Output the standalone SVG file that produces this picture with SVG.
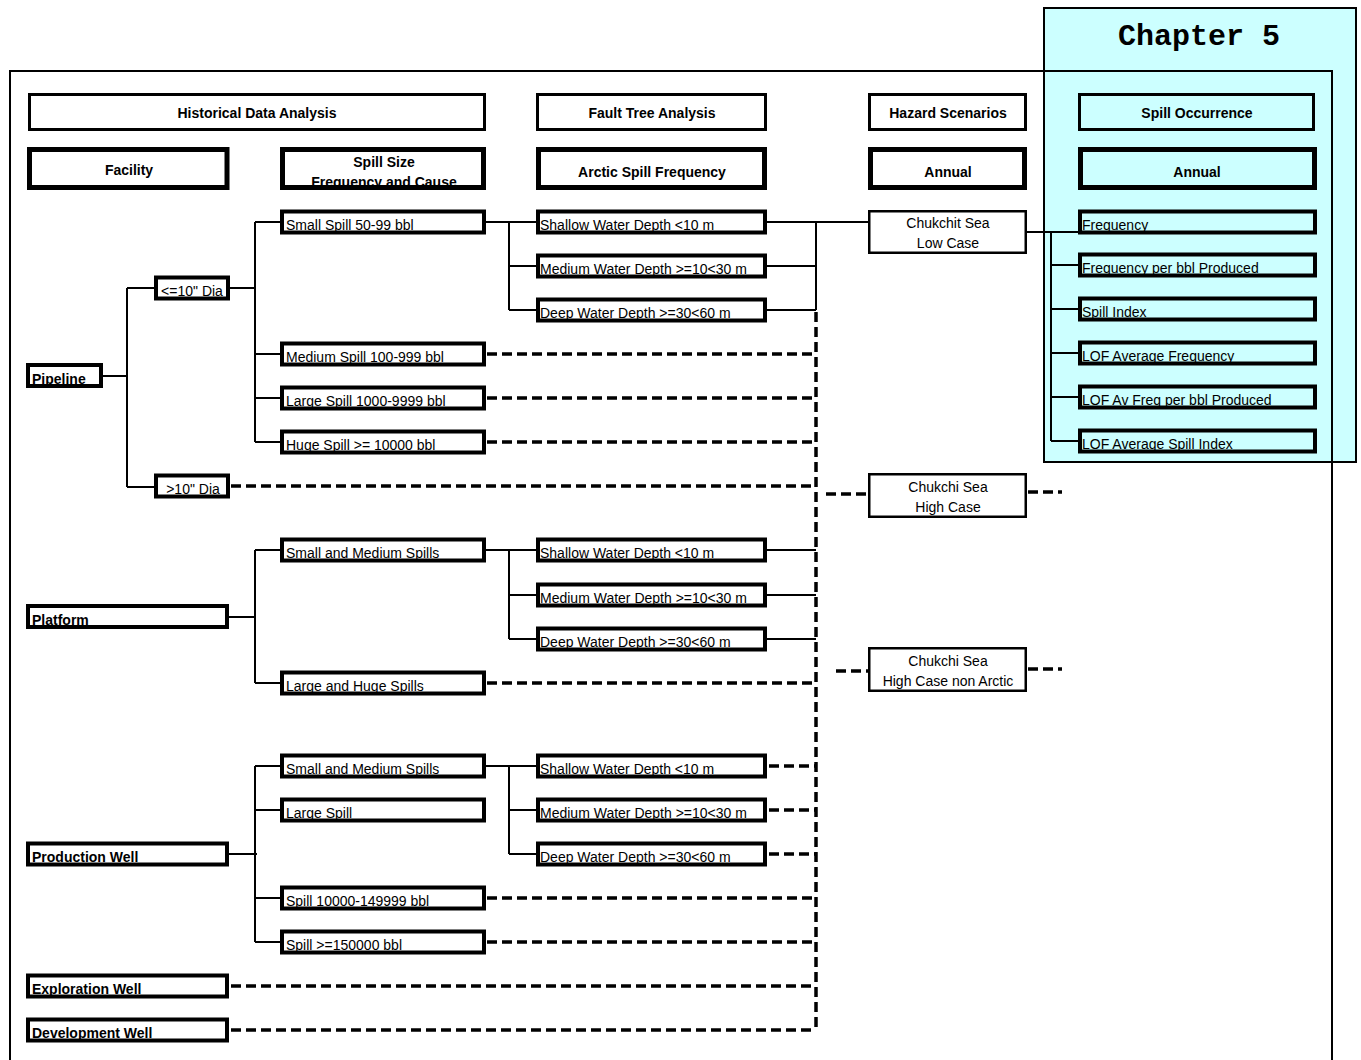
<svg xmlns="http://www.w3.org/2000/svg" width="1361" height="1060" viewBox="0 0 1361 1060">
  <style>
    text { font-family: "Liberation Sans", Arial, sans-serif; font-size: 14px; fill: #000; }
    .b { font-weight: bold; }
    .c { text-anchor: middle; }
    .hdr { fill: none; stroke: #000; stroke-width: 3; }
    .cat { fill: none; stroke: #000; stroke-width: 5; }
    .box { fill: none; stroke: #000; stroke-width: 4; }
    .hz { fill: none; stroke: #000; stroke-width: 2.5; }
    .ln { fill: none; stroke: #000; stroke-width: 2; }
    .dash { fill: none; stroke: #000; stroke-width: 3.5; stroke-dasharray: 10 5; }
    .chap { font-family: "Liberation Mono", "Courier New", monospace; font-size: 30px; font-weight: bold; }
  </style>

  <rect width="1361" height="1060" fill="#fff"/>

  <!-- Chapter 5 panel -->
  <g id="chapter5">
    <rect x="1044" y="8" width="312" height="454" fill="#CCFFFF" stroke="#000" stroke-width="2"/>
    <text class="chap c" x="1199" y="45">Chapter 5</text>
  </g>

  <!-- outer frame -->
  <rect id="frame" x="10" y="71" width="1322" height="1010" fill="none" stroke="#000" stroke-width="2"/>

  <!-- connectors -->
  <g id="connectors">
    <path class="ln" d="M103 376H128 M127 288V487 M127 288H155 M127 487H155"/>
    <path class="ln" d="M229 288H256 M255 222V442 M255 222H281 M255 354H281 M255 398H281 M255 442H281"/>
    <path class="ln" d="M485 222H537 M509 222V310 M509 266H537 M509 310H537"/>
    <path class="ln" d="M767 222H869 M767 266H816 M767 310H816 M816 222V310"/>
    <path class="ln" d="M1027 232H1078 M1051 232V441 M1051 265H1078 M1051 309H1078 M1051 353H1078 M1051 397H1078 M1051 441H1078"/>
    <path class="ln" d="M229 617H256 M255 550V683 M255 550H281 M255 683H281"/>
    <path class="ln" d="M485 550H537 M509 550V639 M509 595H537 M509 639H537"/>
    <path class="ln" d="M767 550H816 M767 595H816 M767 639H816"/>
    <path class="ln" d="M229 854H257 M255 766V942 M255 766H281 M255 810H281 M255 898H281 M255 942H281"/>
    <path class="ln" d="M485 766H537 M509 766V854 M509 810H537 M509 854H537"/>

    <path class="dash" d="M487 354H816 M487 398H816 M487 442H816 M231 486H816 M487 683H816"/>
    <path class="dash" d="M769 766H816 M769 810H816 M769 854H816"/>
    <path class="dash" d="M487 898H816 M487 942H816 M231 986H816 M231 1030H816"/>
    <path class="dash" d="M816 312V1032"/>
    <path class="dash" d="M826 494H867 M1028 492H1062 M836 671H869 M1028 669H1062"/>
  </g>

  <!-- column headers -->
  <g id="h-historical"><text class="b c" x="257" y="118">Historical Data Analysis</text><rect class="hdr" x="29.5" y="94.5" width="455" height="35"/></g>
  <g id="h-fault"><text class="b c" x="652" y="118">Fault Tree Analysis</text><rect class="hdr" x="537.5" y="94.5" width="228" height="35"/></g>
  <g id="h-hazard"><text class="b c" x="948" y="118">Hazard Scenarios</text><rect class="hdr" x="869.5" y="94.5" width="156" height="35"/></g>
  <g id="h-occurrence"><text class="b c" x="1197" y="118">Spill Occurrence</text><rect class="hdr" x="1079.5" y="94.5" width="234" height="35"/></g>

  <g id="c-facility"><text class="b c" x="129" y="175">Facility</text><rect class="cat" x="29.5" y="149.5" width="197.5" height="38"/></g>
  <g id="c-spillsize"><text class="b c" x="384" y="167">Spill Size</text><text class="b c" x="384" y="187">Frequency and Cause</text><rect class="cat" x="282.5" y="149.5" width="201" height="38"/></g>
  <g id="c-arctic"><text class="b c" x="652" y="177">Arctic Spill Frequency</text><rect class="cat" x="538.5" y="149.5" width="226" height="38"/></g>
  <g id="c-annual"><text class="b c" x="948" y="177">Annual</text><rect class="cat" x="870.5" y="149.5" width="154" height="38"/></g>
  <g id="c-annual2"><text class="b c" x="1197" y="177">Annual</text><rect class="cat" x="1080.5" y="149.5" width="234" height="38"/></g>

  <!-- facilities -->
  <g id="f-pipeline"><text class="b" x="32" y="384">Pipeline</text><rect class="box" x="28" y="365" width="73" height="21"/></g>
  <g id="f-platform"><text class="b" x="32" y="625">Platform</text><rect class="box" x="28" y="606" width="199" height="21"/></g>
  <g id="f-production"><text class="b" x="32" y="862">Production Well</text><rect class="box" x="28" y="843.5" width="199" height="21"/></g>
  <g id="f-exploration"><text class="b" x="32" y="994">Exploration Well</text><rect class="box" x="28" y="975.5" width="199" height="21"/></g>
  <g id="f-development"><text class="b" x="32" y="1038">Development Well</text><rect class="box" x="28" y="1019.5" width="199" height="21"/></g>

  <!-- pipeline diameters -->
  <g id="d-small"><text class="c" x="192" y="296">&lt;=10" Dia</text><rect class="box" x="156" y="277.5" width="72" height="21"/></g>
  <g id="d-large"><text class="c" x="193" y="494">&gt;10" Dia</text><rect class="box" x="156" y="475.5" width="72" height="21"/></g>

  <!-- spill size classes -->
  <g id="s-p-small"><text x="286" y="230">Small Spill 50-99 bbl</text><rect class="box" x="282" y="211.5" width="202" height="21"/></g>
  <g id="s-p-medium"><text x="286" y="362">Medium Spill 100-999 bbl</text><rect class="box" x="282" y="343.5" width="202" height="21"/></g>
  <g id="s-p-large"><text x="286" y="406">Large Spill 1000-9999 bbl</text><rect class="box" x="282" y="387.5" width="202" height="21"/></g>
  <g id="s-p-huge"><text x="286" y="450">Huge Spill  &gt;= 10000 bbl</text><rect class="box" x="282" y="431.5" width="202" height="21"/></g>
  <g id="s-pf-small"><text x="286" y="558">Small and Medium Spills</text><rect class="box" x="282" y="539.5" width="202" height="21"/></g>
  <g id="s-pf-large"><text x="286" y="691">Large and Huge Spills</text><rect class="box" x="282" y="672.5" width="202" height="21"/></g>
  <g id="s-w-small"><text x="286" y="774">Small and Medium Spills</text><rect class="box" x="282" y="755.5" width="202" height="21"/></g>
  <g id="s-w-large"><text x="286" y="818">Large Spill</text><rect class="box" x="282" y="799.5" width="202" height="21"/></g>
  <g id="s-w-10000"><text x="286" y="906">Spill 10000-149999 bbl</text><rect class="box" x="282" y="887.5" width="202" height="21"/></g>
  <g id="s-w-150000"><text x="286" y="950">Spill &gt;=150000 bbl</text><rect class="box" x="282" y="931.5" width="202" height="21"/></g>

  <!-- water depth classes -->
  <g id="w-p-shallow"><text x="540" y="230">Shallow  Water Depth &lt;10 m</text><rect class="box" x="538" y="211.5" width="227" height="21"/></g>
  <g id="w-p-medium"><text x="540" y="274">Medium Water Depth &gt;=10&lt;30 m</text><rect class="box" x="538" y="255.5" width="227" height="21"/></g>
  <g id="w-p-deep"><text x="540" y="318">Deep Water Depth &gt;=30&lt;60 m</text><rect class="box" x="538" y="299.5" width="227" height="21"/></g>
  <g id="w-pf-shallow"><text x="540" y="558">Shallow  Water Depth &lt;10 m</text><rect class="box" x="538" y="539.5" width="227" height="21"/></g>
  <g id="w-pf-medium"><text x="540" y="603">Medium Water Depth &gt;=10&lt;30 m</text><rect class="box" x="538" y="584.5" width="227" height="21"/></g>
  <g id="w-pf-deep"><text x="540" y="647">Deep Water Depth &gt;=30&lt;60 m</text><rect class="box" x="538" y="628.5" width="227" height="21"/></g>
  <g id="w-w-shallow"><text x="540" y="774">Shallow  Water Depth &lt;10 m</text><rect class="box" x="538" y="755.5" width="227" height="21"/></g>
  <g id="w-w-medium"><text x="540" y="818">Medium Water Depth &gt;=10&lt;30 m</text><rect class="box" x="538" y="799.5" width="227" height="21"/></g>
  <g id="w-w-deep"><text x="540" y="862">Deep Water Depth &gt;=30&lt;60 m</text><rect class="box" x="538" y="843.5" width="227" height="21"/></g>

  <!-- hazard scenarios -->
  <g id="z-low"><rect class="hz" x="869.25" y="211.25" width="156.5" height="41.5"/><text class="c" x="948" y="228">Chukchit Sea</text><text class="c" x="948" y="248">Low Case</text></g>
  <g id="z-high"><rect class="hz" x="869.25" y="474.25" width="156.5" height="42.5"/><text class="c" x="948" y="492">Chukchi Sea</text><text class="c" x="948" y="512">High Case</text></g>
  <g id="z-nonarctic"><rect class="hz" x="869.25" y="648.25" width="156.5" height="42.5"/><text class="c" x="948" y="666">Chukchi Sea</text><text class="c" x="948" y="686">High Case non Arctic</text></g>

  <!-- spill occurrence outputs -->
  <g id="o-frequency"><text x="1082" y="230">Frequency</text><rect class="box" x="1080" y="211.5" width="235" height="21"/></g>
  <g id="o-freq-bbl"><text x="1082" y="273">Frequency per bbl Produced</text><rect class="box" x="1080" y="254.5" width="235" height="21"/></g>
  <g id="o-index"><text x="1082" y="317">Spill Index</text><rect class="box" x="1080" y="298.5" width="235" height="21"/></g>
  <g id="o-lof-freq"><text x="1082" y="361">LOF Average Frequency</text><rect class="box" x="1080" y="342.5" width="235" height="21"/></g>
  <g id="o-lof-bbl"><text x="1082" y="405">LOF Av Freq per bbl Produced</text><rect class="box" x="1080" y="386.5" width="235" height="21"/></g>
  <g id="o-lof-index"><text x="1082" y="449">LOF Average Spill Index</text><rect class="box" x="1080" y="430.5" width="235" height="21"/></g>
</svg>
